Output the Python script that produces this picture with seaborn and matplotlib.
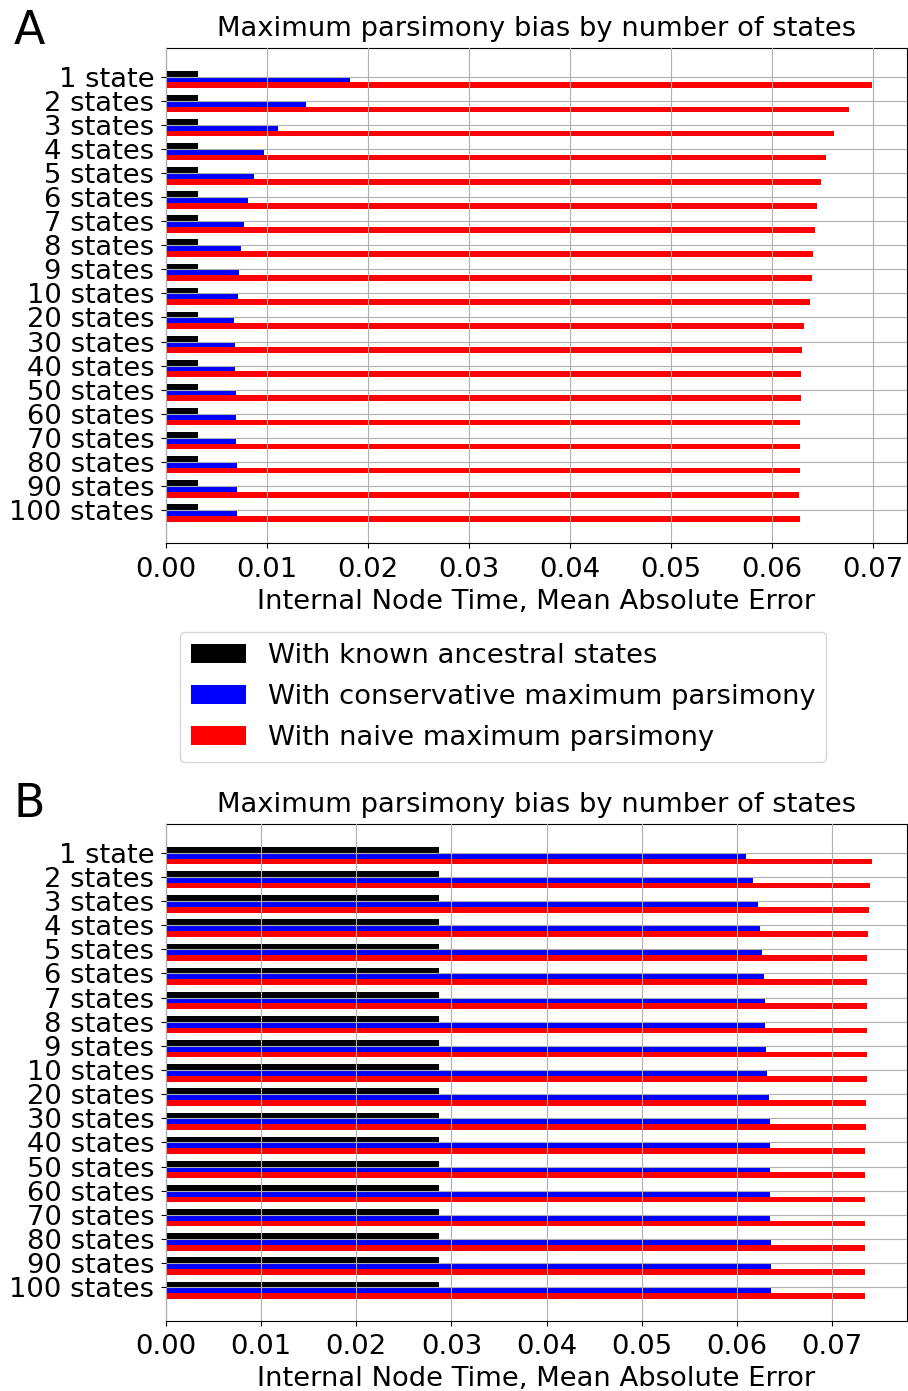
import matplotlib
matplotlib.use("Agg")
import matplotlib.pyplot as plt
import seaborn as sns
import pandas as pd
import numpy as np
from matplotlib.patches import Patch

categories = ["1 state"] + [f"{n} states" for n in [2, 3, 4, 5, 6, 7, 8, 9, 10, 20, 30, 40, 50, 60, 70, 80, 90, 100]]
methods = ["With known ancestral states",
           "With conservative maximum parsimony",
           "With naive maximum parsimony"]
colors = ["black", "blue", "red"]

# Panel A values
a_known = [0.0032] * 19
a_conservative = [0.0182, 0.0139, 0.0111, 0.0097, 0.00873, 0.00817, 0.00771, 0.00744,
                  0.00724, 0.00709, 0.00675, 0.00679, 0.00685, 0.00692, 0.00698, 0.00698,
                  0.00702, 0.00702, 0.00702]
a_naive = [0.0699, 0.06769, 0.06618, 0.06535, 0.06485, 0.06453, 0.06426, 0.0641,
           0.06394, 0.06377, 0.06321, 0.06301, 0.06288, 0.06288, 0.06282, 0.06278,
           0.06275, 0.06272, 0.06275]

# Panel B values
b_known = [0.02873] * 19
b_conservative = [0.06094, 0.06168, 0.06223, 0.06248, 0.06269, 0.06283, 0.06293, 0.0630,
                  0.06311, 0.06314, 0.06335, 0.06346, 0.06349, 0.06353, 0.06353, 0.06353,
                  0.0636, 0.0636, 0.0636]
b_naive = [0.07417, 0.0740, 0.07389, 0.07375, 0.07372, 0.07368, 0.07368, 0.07365,
           0.07365, 0.07365, 0.07354, 0.07354, 0.07351, 0.07351, 0.07351, 0.07351,
           0.07351, 0.07351, 0.07351]

title = "Maximum parsimony bias by number of states"
xlabel = "Internal Node Time, Mean Absolute Error"
xticks = [0.00, 0.01, 0.02, 0.03, 0.04, 0.05, 0.06, 0.07]

FS = 19.7

def make_df(known, cons, naive):
    rows = []
    for vals, m in zip([known, cons, naive], methods):
        for c, v in zip(categories, vals):
            rows.append({"category": c, "method": m, "value": v})
    return pd.DataFrame(rows)

plt.rcdefaults()
fig = plt.figure(figsize=(9.08, 13.91), dpi=100)
axA = fig.add_axes([166/908, 0.6094, 741/908, 0.3561])
axB = fig.add_axes([166/908, 0.0506, 741/908, 0.3570])

for ax, data in [(axA, make_df(a_known, a_conservative, a_naive)),
                 (axB, make_df(b_known, b_conservative, b_naive))]:
    sns.barplot(data=data, y="category", x="value", hue="method", hue_order=methods,
                order=categories, palette=colors, orient="h", width=0.72,
                saturation=1, errorbar=None, edgecolor="none", linewidth=0,
                legend=False, ax=ax)
    for p in ax.patches:
        p.set_y(p.get_y() + 0.12)
    vmax = max(data["value"])
    ax.set_xlim(0, vmax * 1.05)
    ax.set_ylim(19.38, -1.19)
    ax.set_xticks(xticks)
    ax.set_xticklabels([f"{t:.2f}" for t in xticks])
    ax.set_axisbelow(False)
    ax.grid(True, axis="both", color="#b0b0b0", linewidth=0.8)
    ax.set_ylabel("")
    ax.set_xlabel(xlabel, fontsize=FS, labelpad=4.5)
    ax.set_title(title, fontsize=FS, pad=8.5)
    ax.tick_params(labelsize=FS)
    ax.tick_params(axis="x", pad=6)
    ax.tick_params(axis="y", pad=5)
    for s in ax.spines.values():
        s.set_visible(True)
        s.set_color("black")

fig.text(14/908, 1 - 44/1391, "A", fontsize=33, ha="left", va="baseline")
fig.text(14/908, 1 - 817/1391, "B", fontsize=33, ha="left", va="baseline")

handles = [Patch(facecolor=c, edgecolor="none") for c in colors]
fig.legend(handles, methods, loc="upper left", bbox_to_anchor=(180/908, 1 - 632/1391),
           bbox_transform=fig.transFigure, borderaxespad=0, fontsize=FS,
           labelspacing=0.55)

fig.savefig("out.png", dpi=100)
